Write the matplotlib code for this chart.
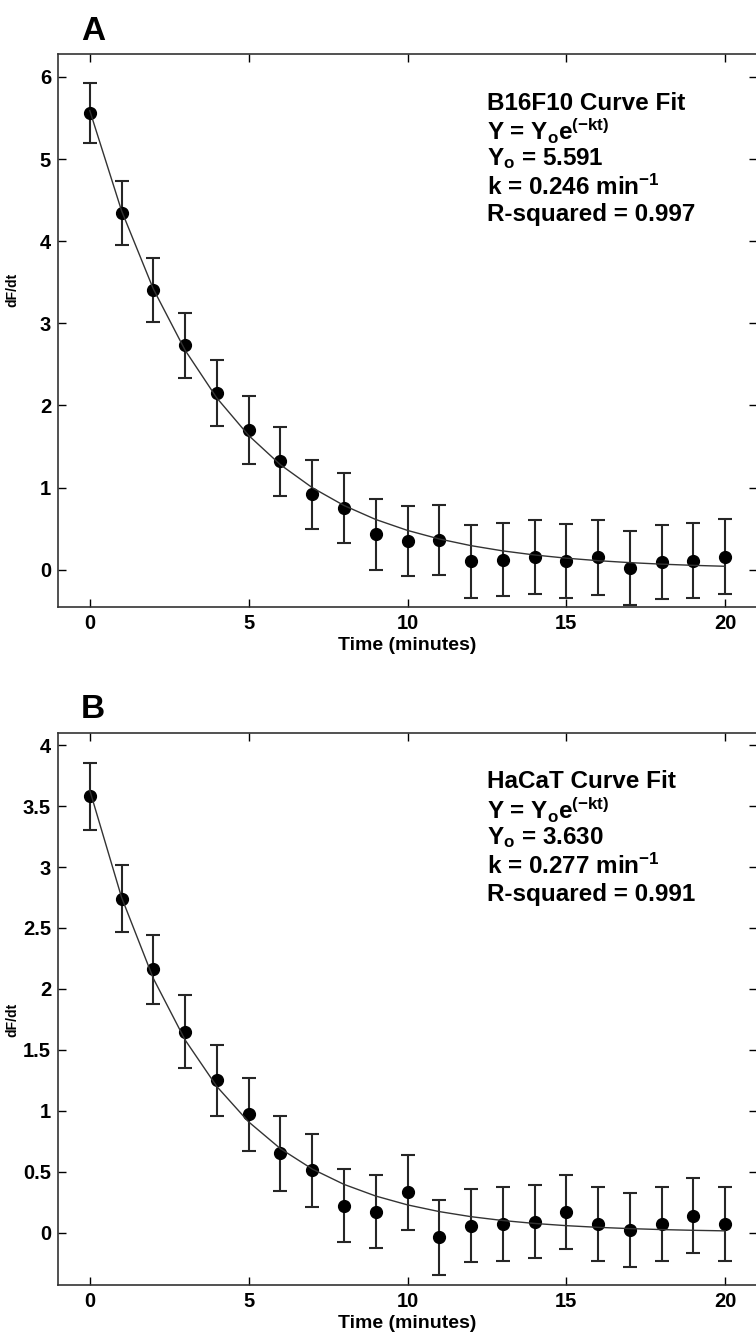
import numpy as np
import matplotlib
matplotlib.use("Agg")
import matplotlib.pyplot as plt
from matplotlib import font_manager

# pick a narrow bold sans if available
names = {f.name for f in font_manager.fontManager.ttflist}
fam = "Liberation Sans Narrow" if "Liberation Sans Narrow" in names else "Liberation Sans"
plt.rcParams["font.family"] = [fam, "DejaVu Sans"]
plt.rcParams["font.weight"] = "bold"
plt.rcParams["mathtext.fontset"] = "custom"
plt.rcParams["mathtext.rm"] = fam + ":bold"
plt.rcParams["mathtext.bf"] = fam + ":bold"
plt.rcParams["mathtext.it"] = fam + ":bold"
plt.rcParams["mathtext.default"] = "bf"

time = list(range(21))

# panel A: B16F10
b16_mean = [5.56, 4.34, 3.41, 2.73, 2.15, 1.70, 1.32, 0.92, 0.75, 0.43, 0.35, 0.36,
            0.10, 0.12, 0.15, 0.10, 0.15, 0.02, 0.09, 0.11, 0.16]
b16_err = [0.37, 0.39, 0.39, 0.40, 0.40, 0.41, 0.42, 0.42, 0.43, 0.43, 0.43, 0.43,
           0.44, 0.445, 0.45, 0.45, 0.455, 0.455, 0.45, 0.46, 0.455]
b16_y0 = 5.591
b16_k = 0.246

# panel B: HaCaT
hacat_mean = [3.58, 2.74, 2.16, 1.65, 1.25, 0.97, 0.65, 0.51, 0.22, 0.17, 0.33, -0.04,
              0.055, 0.07, 0.09, 0.17, 0.07, 0.02, 0.07, 0.14, 0.07]
hacat_err = [0.275, 0.273, 0.285, 0.30, 0.29, 0.30, 0.306, 0.296, 0.30, 0.30, 0.31, 0.31,
             0.30, 0.305, 0.30, 0.305, 0.305, 0.306, 0.305, 0.305, 0.305]
hacat_y0 = 3.630
hacat_k = 0.277

panels = [
    ("A", b16_mean, b16_err, b16_y0, b16_k, "B16F10 Curve Fit", "0.997",
     (-0.455, 6.28), [0, 1, 2, 3, 4, 5, 6], ["0", "1", "2", "3", "4", "5", "6"], 0.573),
    ("B", hacat_mean, hacat_err, hacat_y0, hacat_k, "HaCaT Curve Fit", "0.991",
     (-0.43, 4.1), [0, 0.5, 1, 1.5, 2, 2.5, 3, 3.5, 4],
     ["0", "0.5", "1", "1.5", "2", "2.5", "3", "3.5", "4"], 0.48),
]

W, H = 756, 1340
fig = plt.figure(figsize=(W / 100, H / 100), dpi=100)

boxes = [(54, 607), (733, 1285)]
for (label, mean, err, y0, k, title, r2, ylim, yt, ytl, ylab_y), (top, bot) in zip(panels, boxes):
    ax = fig.add_axes([58 / W, 1 - bot / H, (757 - 58) / W, (bot - top) / H])
    t = np.array(time)
    fit = y0 * np.exp(-k * t)
    ax.errorbar(time, mean, yerr=err, fmt="o", color="black", ecolor="#262626",
                elinewidth=1.5, capsize=5, capthick=1.5, markersize=8.5, zorder=2)
    ax.plot(time, fit, color="#333333", linewidth=1.0, zorder=3)
    ax.set_xlim(-1, 21)
    ax.set_ylim(*ylim)
    ax.set_xticks([0, 5, 10, 15, 20])
    ax.set_yticks(yt)
    ax.set_yticklabels(ytl)
    ax.tick_params(direction="in", top=True, right=True, length=6, width=1,
                   labelsize=14.5, pad=5)
    for lab in ax.get_xticklabels() + ax.get_yticklabels():
        lab.set_fontweight("bold")
    for s in ax.spines.values():
        s.set_linewidth(1.2)
        s.set_color("#333333")
    ax.set_xlabel("Time (minutes)", fontsize=14, fontweight="bold", labelpad=3)
    ax.set_ylabel("dF/dt", fontsize=10, fontweight="bold")
    ax.yaxis.set_label_coords(-0.055, ylab_y)

    lines = [title, r"Y = Y$_o$e$^{(-kt)}$", "Y$_o$ = %.3f" % y0,
             "k = %.3f min$^{-1}$" % k, "R-squared = " + r2]
    for i, txt in enumerate(lines):
        fig.text(487 / W, 1 - (top + 49 + i * 28) / H, txt, fontsize=17.5,
                 fontweight="bold", ha="left", va="center")
    fig.text(81 / W, 1 - (top - 23) / H, label, fontsize=24, fontweight="bold",
             ha="left", va="center", family=["Liberation Sans", "DejaVu Sans"])

fig.savefig("out.png", dpi=100)
